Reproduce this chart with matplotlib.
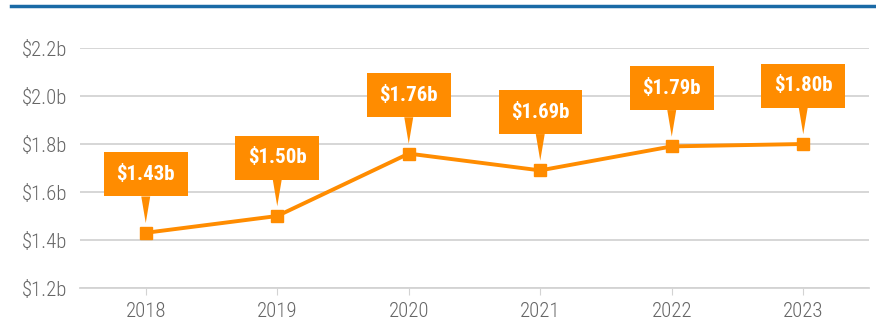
import matplotlib
matplotlib.use("Agg")
import matplotlib.pyplot as plt
from matplotlib import font_manager
from matplotlib.lines import Line2D

years = ["2018", "2019", "2020", "2021", "2022", "2023"]
revenue = [1.43, 1.50, 1.76, 1.69, 1.79, 1.80]
ytick_vals = [1.2, 1.4, 1.6, 1.8, 2.0, 2.2]

ORANGE = "#FF8C00"
GREY_TXT = "#666666"
GRID = "#D3D3D3"

# narrowest installed family wins
installed = {f.name for f in font_manager.fontManager.ttflist}
for cand in ["Roboto Condensed", "Liberation Sans Narrow", "Roboto"]:
    if cand in installed:
        font = cand
        break
else:
    font = "DejaVu Sans"
plt.rcParams["font.family"] = [font, "DejaVu Sans"]

fig = plt.figure(figsize=(8.76, 3.21), dpi=100)
ax = fig.add_axes([80 / 876, 1 - 288 / 321, 789 / 876, 240 / 321])

# blue rule across the top
fig.add_artist(Line2D([11 / 876, 1], [1 - 6 / 321] * 2, color="#1A6AA6", lw=2.5))

x = list(range(len(years)))
ax.plot(x, revenue, color=ORANGE, lw=2.8, marker="s", ms=8, zorder=3)

# value callouts with a tapered pointer down to each point
for xi, v in zip(x, revenue):
    ax.annotate(f"${v:.2f}b", xy=(xi, v), xytext=(0, 42), textcoords="offset points",
                ha="center", va="center", color="white", fontsize=15, fontweight="bold",
                bbox=dict(boxstyle="square,pad=0.6", fc=ORANGE, ec="none"),
                arrowprops=dict(arrowstyle="wedge,tail_width=0.43", fc=ORANGE, ec="none",
                                shrinkA=0, shrinkB=7),
                annotation_clip=False, zorder=4)

ax.set_xlim(-0.5, 5.5)
ax.set_ylim(1.2, 2.2)
ax.set_xticks(x, years)
ax.set_yticks(ytick_vals, [f"${t:.1f}b" for t in ytick_vals])
ax.grid(axis="y", color=GRID, lw=1.3)
ax.set_axisbelow(True)
for s in ("top", "right", "left"):
    ax.spines[s].set_visible(False)
ax.spines["bottom"].set_color(GRID)
ax.spines["bottom"].set_linewidth(1.3)
ax.tick_params(axis="y", length=0, pad=9, labelsize=15, labelcolor=GREY_TXT)
ax.tick_params(axis="x", length=5, color=GRID, pad=5, labelsize=15, labelcolor=GREY_TXT)
for lbl in ax.get_xticklabels() + ax.get_yticklabels():
    lbl.set_fontweight("light")

fig.savefig("out.png", dpi=100)
